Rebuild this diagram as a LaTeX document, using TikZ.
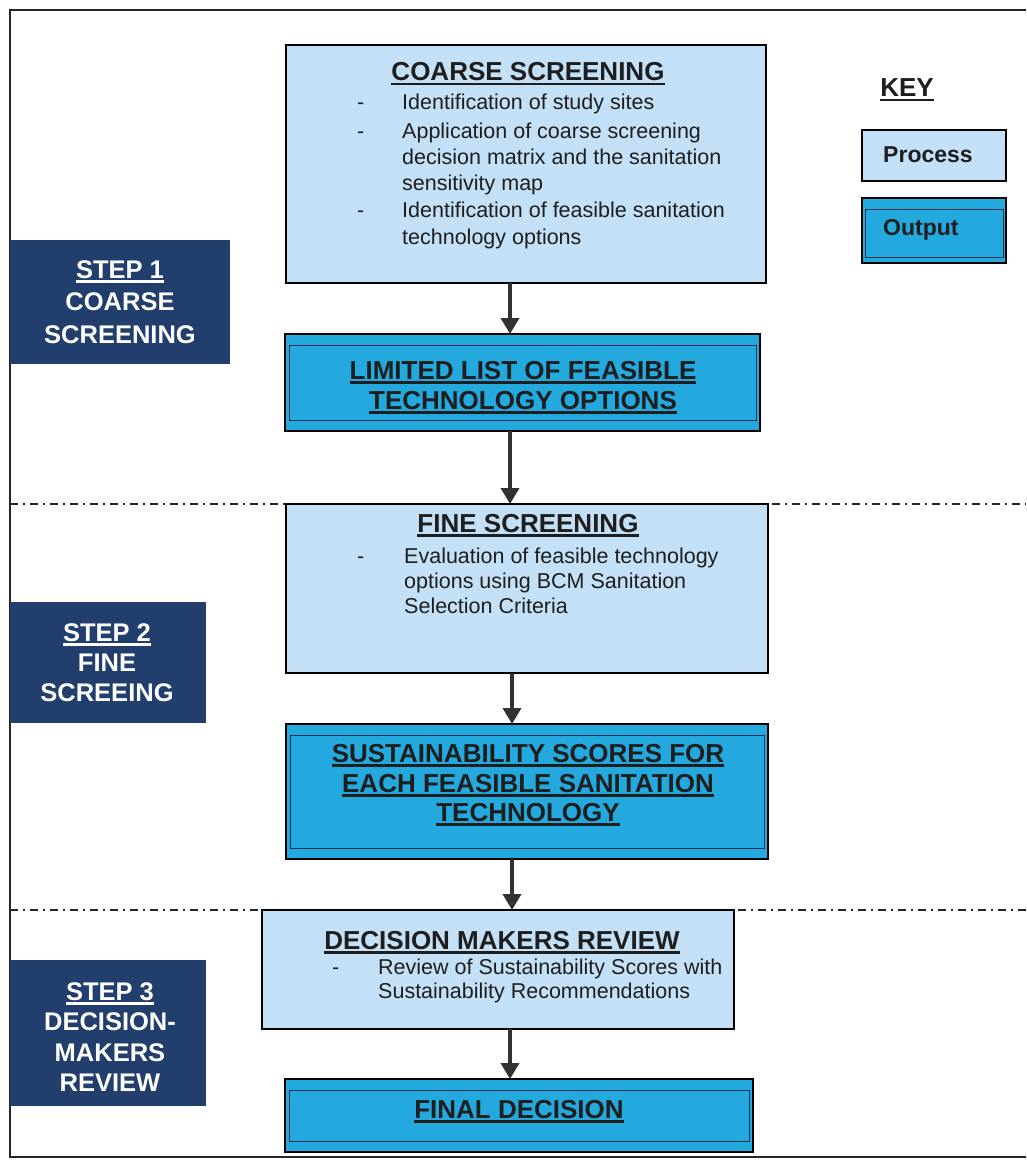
\documentclass[tikz,border=0pt]{standalone}
\usepackage{fontspec}
\setmainfont{Liberation Sans}
\usetikzlibrary{arrows.meta}
\definecolor{procfill}{RGB}{196,224,247}
\definecolor{outfill}{RGB}{35,169,222}
\definecolor{stepfill}{RGB}{33,62,108}
\definecolor{arrgray}{RGB}{50,50,50}
\definecolor{txtdark}{RGB}{30,30,30}
\definecolor{innercol}{RGB}{20,50,80}
\newsavebox\myulbox
\newcommand\myul[1]{\sbox\myulbox{#1}\rlap{\rule[-4.5pt]{\wd\myulbox}{2.2pt}}\usebox\myulbox}
\tikzset{
  procbox/.style={draw=black, line width=2.2pt, fill=procfill, inner sep=0pt, outer sep=0pt},
  outbox/.style={draw=black, line width=2.4pt, fill=outfill, inner sep=0pt, outer sep=0pt},
  stepbox/.style={fill=stepfill, draw=stepfill, inner sep=0pt, outer sep=0pt},
  innerline/.style={draw=innercol, line width=1pt},
  ttl/.style={font=\fontsize{26}{30}\selectfont\bfseries, text=txtdark, inner sep=0pt, anchor=base},
  bodytxt/.style={font=\fontsize{21.5}{26}\selectfont, text=txtdark, inner sep=0pt, anchor=base west},
  steptxt/.style={font=\fontsize{25.5}{30}\selectfont\bfseries, text=white, inner sep=0pt, anchor=base},
  keytxt/.style={font=\fontsize{23}{28}\selectfont\bfseries, text=txtdark, inner sep=0pt, anchor=base west},
  arr/.style={draw=arrgray, line width=3.5pt, -{Triangle[width=18pt,length=16pt]}},
  sepline/.style={draw=black!85, line width=2pt, dash pattern=on 8pt off 5pt on 2pt off 5pt},
  framel/.style={draw=black!85, line width=2pt}
}
\begin{document}
\begin{tikzpicture}[x=1pt,y=-1pt]
\useasboundingbox (0,0) rectangle (1026,1161);
\fill[white] (0,0) rectangle (1026,1161);
% frame
\draw[framel] (1026,10) -- (10,10) -- (10,1157) -- (1026,1157);

% boxes
\node[procbox, minimum width=480pt, minimum height=238pt] (coarse) at (526,164) {};
\node[outbox, minimum width=475pt, minimum height=97pt] (lim) at (522.5,382.5) {};
\node[procbox, minimum width=482pt, minimum height=169pt] (fine) at (527,588.5) {};
\node[outbox, minimum width=482pt, minimum height=135pt] (sust) at (527,791.5) {};
\node[procbox, minimum width=472pt, minimum height=119pt] (dec) at (498,969.5) {};
\node[outbox, minimum width=468pt, minimum height=73pt] (final) at (519,1115.5) {};
\node[procbox, minimum width=144pt, minimum height=51pt] (keyproc) at (934,155.5) {};
\node[outbox, minimum width=144pt, minimum height=65pt] (keyout) at (934,230.5) {};
\node[stepbox, minimum width=219pt, minimum height=123pt] (step1) at (119.5,301.5) {};
\node[stepbox, minimum width=195pt, minimum height=120pt] (step2) at (107.5,662) {};
\node[stepbox, minimum width=195pt, minimum height=145pt] (step3) at (107.5,1032.5) {};

% inner borders of output boxes
\foreach \n in {lim,sust,final}
  \draw[innerline] ([xshift=4pt,yshift=-11pt]\n.north west) rectangle ([xshift=-4pt,yshift=11pt]\n.south east);
\draw[innerline] ([xshift=3pt,yshift=-11pt]keyout.north west) rectangle ([xshift=-3pt,yshift=6pt]keyout.south east);

% separator lines
\draw[sepline] (10,504) -- (fine.north west);
\draw[sepline] ([xshift=4pt]fine.north east) -- (1026,504);
\draw[sepline] (10,910) -- (dec.north west);
\draw[sepline] ([xshift=4pt]dec.north east) -- (1026,910);

% arrows
\coordinate (colA) at (510,0);
\coordinate (colB) at (512,0);
\draw[arr] (coarse.south -| colA) -- (lim.north -| colA);
\draw[arr] (lim.south -| colA) -- (fine.north -| colA);
\draw[arr] (fine.south -| colB) -- (sust.north -| colB);
\draw[arr] (sust.south -| colB) -- (dec.north -| colB);
\draw[arr] (dec.south -| colA) -- (final.north -| colA);

% coarse screening text
\node[ttl] (ctitle) at (528,81) {\myul{COARSE SCREENING}};
\node[bodytxt] (cd1) at (357,110) {-};
\node[bodytxt] (cd2) at (357,139) {-};
\node[bodytxt] (cd3) at (357,218) {-};
\node[bodytxt] (cl1) at (402,110) {Identification of study sites};
\node[bodytxt] (cl2) at (402,139) {Application of coarse screening};
\node[bodytxt] (cl3) at (402,165) {decision matrix and the sanitation};
\node[bodytxt] (cl4) at (402,191) {sensitivity map};
\node[bodytxt] (cl5) at (402,218) {Identification of feasible sanitation};
\node[bodytxt] (cl6) at (402,244) {technology options};

% limited list
\node[ttl] (lt1) at (523,379) {\myul{LIMITED LIST OF FEASIBLE}};
\node[ttl] (lt2) at (523,409) {\myul{TECHNOLOGY OPTIONS}};

% fine screening
\node[ttl] (ftitle) at (528,532) {\myul{FINE SCREENING}};
\node[bodytxt] (fd1) at (357,563) {-};
\node[bodytxt] (fl1) at (404,563) {Evaluation of feasible technology};
\node[bodytxt] (fl2) at (404,588) {options using BCM Sanitation};
\node[bodytxt] (fl3) at (404,613) {Selection Criteria};

% sustainability scores
\node[ttl] (st1) at (528,762) {\myul{SUSTAINABILITY SCORES FOR}};
\node[ttl] (st2) at (528,792) {\myul{EACH FEASIBLE SANITATION}};
\node[ttl] (st3) at (528,821) {\myul{TECHNOLOGY}};

% decision makers review
\node[ttl] (dtitle) at (502,949) {\myul{DECISION MAKERS REVIEW}};
\node[bodytxt] (dd1) at (332,974) {-};
\node[bodytxt] (dl1) at (378,974) {Review of Sustainability Scores with};
\node[bodytxt] (dl2) at (378,998) {Sustainability Recommendations};

% final decision
\node[ttl] (fdt) at (519,1118) {\myul{FINAL DECISION}};

% steps
\node[steptxt] (s1a) at (120,278) {\myul{STEP 1}};
\node[steptxt] (s1b) at (120,310) {COARSE};
\node[steptxt] (s1c) at (120,343) {SCREENING};
\node[steptxt] (s2a) at (107,641) {\myul{STEP 2}};
\node[steptxt] (s2b) at (107,671) {FINE};
\node[steptxt] (s2c) at (107,701) {SCREEING};
\node[steptxt] (s3a) at (110,1000) {\myul{STEP 3}};
\node[steptxt] (s3b) at (110,1030) {DECISION-};
\node[steptxt] (s3c) at (110,1061) {MAKERS};
\node[steptxt] (s3d) at (110,1091) {REVIEW};

% key
\node[ttl] (keyt) at (907,97) {\myul{KEY}};
\node[keytxt] (kp) at (883,163) {Process};
\node[keytxt] (ko) at (883,235) {Output};
\end{tikzpicture}
\end{document}
